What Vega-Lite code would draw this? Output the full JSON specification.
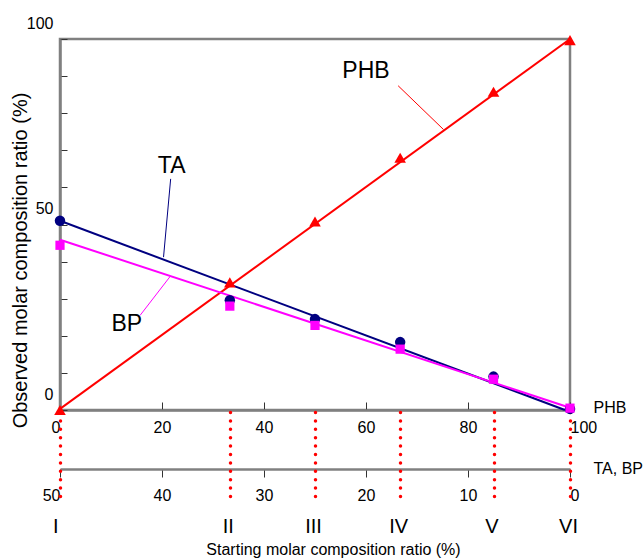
{
  "$schema": "https://vega.github.io/schema/vega-lite/v6.json",
  "width": 510,
  "height": 371,
  "autosize": {"type": "none"},
  "padding": {"left": 60, "top": 39, "right": 73, "bottom": 148},
  "background": "white",
  "config": {
    "font": "Liberation Sans",
    "view": {"stroke": "#808080", "strokeWidth": 2.5},
    "axis": {
      "labelFont": "Liberation Sans",
      "titleFont": "Liberation Sans",
      "labelColor": "#000000",
      "titleColor": "#000000",
      "labelFontSize": 16,
      "titleFontSize": 16,
      "titleFontWeight": "normal",
      "grid": false,
      "domainColor": "#808080",
      "domainWidth": 2.5,
      "tickColor": "#333333",
      "tickWidth": 1,
      "labelOverlap": false,
      "labelBound": false
    }
  },
  "datasets": {
    "fits": [
      {"series": "PHB", "x": 0, "y": 0.3},
      {"series": "PHB", "x": 100, "y": 100},
      {"series": "TA", "x": 0, "y": 51},
      {"series": "TA", "x": 99, "y": 0},
      {"series": "BP", "x": 0, "y": 45.9},
      {"series": "BP", "x": 100, "y": 0.6}
    ],
    "observed": [
      {"series": "TA", "sample": "I", "start": 0, "observed": 51},
      {"series": "TA", "sample": "II", "start": 33.3, "observed": 29.6},
      {"series": "TA", "sample": "III", "start": 50, "observed": 24.5},
      {"series": "TA", "sample": "IV", "start": 66.7, "observed": 18.3},
      {"series": "TA", "sample": "V", "start": 85, "observed": 9.0},
      {"series": "TA", "sample": "VI", "start": 100, "observed": 0.3},
      {"series": "BP", "sample": "I", "start": 0, "observed": 44.4},
      {"series": "BP", "sample": "II", "start": 33.3, "observed": 28},
      {"series": "BP", "sample": "III", "start": 50, "observed": 22.8},
      {"series": "BP", "sample": "IV", "start": 66.7, "observed": 16.4},
      {"series": "BP", "sample": "V", "start": 85, "observed": 8.3},
      {"series": "BP", "sample": "VI", "start": 100, "observed": 0.5},
      {"series": "PHB", "sample": "I", "start": 0, "observed": 0},
      {"series": "PHB", "sample": "II", "start": 33.3, "observed": 34.4},
      {"series": "PHB", "sample": "III", "start": 50, "observed": 50.8},
      {"series": "PHB", "sample": "IV", "start": 66.7, "observed": 68},
      {"series": "PHB", "sample": "V", "start": 85, "observed": 85.8},
      {"series": "PHB", "sample": "VI", "start": 100, "observed": 99.7}
    ],
    "labels": [
      {"series": "TA", "text": "TA", "x": 21.9, "y": 65.9, "lx1": 21.7, "ly1": 62.3, "lx2": 20.3, "ly2": 41.2},
      {"series": "BP", "text": "BP", "x": 13.1, "y": 23.3, "lx1": 15.7, "ly1": 25.5, "lx2": 21.6, "ly2": 36.0},
      {"series": "PHB", "text": "PHB", "x": 60, "y": 91.4, "lx1": 66.3, "ly1": 87.4, "lx2": 75.2, "ly2": 75.6}
    ],
    "samples": [
      {"sample": "I", "phb": 0, "ta_bp": 50},
      {"sample": "II", "phb": 33.3, "ta_bp": 33.3},
      {"sample": "III", "phb": 50, "ta_bp": 25},
      {"sample": "IV", "phb": 66.7, "ta_bp": 16.7},
      {"sample": "V", "phb": 85, "ta_bp": 7.5},
      {"sample": "VI", "phb": 100, "ta_bp": 0}
    ]
  },
  "layer": [
    {
      "layer": [
        {
          "data": {"name": "fits"},
          "mark": {"type": "line", "strokeWidth": 2},
          "encoding": {
            "x": {
              "field": "x", "type": "quantitative",
              "scale": {"domain": [0, 100], "nice": false, "zero": false},
              "axis": {
                "orient": "bottom",
                "offset": 0,
                "title": "PHB",
                "values": [0, 20, 40, 60, 80, 100],
                "tickCount": 20,
                "labelOverlap": false,
                "tickSize": -8,
                "labelPadding": 17,
                "labelAlign": {
                  "condition": [
                    {"test": "datum.value === 0", "value": "right"},
                    {"test": "datum.value === 100", "value": "left"}
                  ],
                  "value": "center"
                },
                "titleX": 533,
                "titleY": 2.5,
                "titleAlign": "left",
                "titleBaseline": "alphabetic",
                "titleAngle": 0
              }
            },
            "y": {
              "field": "y", "type": "quantitative",
              "scale": {"domain": [0, 100], "nice": false, "zero": false},
              "axis": {
                "title": "Observed molar composition ratio (%)",
                "titleFontSize": 20,
                "titleX": -40,
                "titleY": 221,
                "titleAlign": "center",
                "titleBaseline": "middle",
                "titleAngle": -90,
                "values": [0, 10, 20, 30, 40, 50, 60, 70, 80, 90, 100],
                "tickCount": 20,
                "labelExpr": "datum.value % 50 === 0 ? datum.label : ''",
                "labelOverlap": false,
                "tickSize": -7,
                "labelPadding": 14,
                "labelOffset": -16,
                "labelAlign": "right",
                "labelBaseline": "middle"
              }
            },
            "color": {
              "field": "series", "type": "nominal",
              "scale": {"domain": ["PHB", "TA", "BP"], "range": ["#ff0000", "#000080", "#ff00ff"]},
              "legend": null
            }
          }
        },
        {
          "data": {"name": "labels"},
          "mark": {"type": "rule", "strokeWidth": 1},
          "encoding": {
            "x": {"field": "lx1", "type": "quantitative", "scale": {"domain": [0, 100], "nice": false, "zero": false}},
            "y": {"field": "ly1", "type": "quantitative", "scale": {"domain": [0, 100], "nice": false, "zero": false}},
            "x2": {"field": "lx2"},
            "y2": {"field": "ly2"},
            "color": {"field": "series", "type": "nominal", "legend": null}
          }
        },
        {
          "data": {"name": "observed"},
          "mark": {"type": "point", "filled": true, "opacity": 1},
          "encoding": {
            "x": {"field": "start", "type": "quantitative", "scale": {"domain": [0, 100], "nice": false, "zero": false}},
            "y": {"field": "observed", "type": "quantitative", "scale": {"domain": [0, 100], "nice": false, "zero": false}},
            "color": {"field": "series", "type": "nominal", "legend": null},
            "shape": {
              "field": "series", "type": "nominal",
              "scale": {"domain": ["PHB", "TA", "BP"], "range": ["triangle-up", "circle", "square"]},
              "legend": null
            },
            "size": {
              "field": "series", "type": "nominal",
              "scale": {"domain": ["PHB", "TA", "BP"], "range": [135, 85, 95]},
              "legend": null
            }
          }
        },
        {
          "data": {"name": "labels"},
          "mark": {"type": "text", "fontSize": 23, "color": "#000000", "baseline": "middle", "align": "center", "font": "Liberation Sans"},
          "encoding": {
            "x": {"field": "x", "type": "quantitative", "scale": {"domain": [0, 100], "nice": false, "zero": false}},
            "y": {"field": "y", "type": "quantitative", "scale": {"domain": [0, 100], "nice": false, "zero": false}},
            "text": {"field": "text"}
          }
        }
      ]
    },
    {
      "data": {"name": "samples"},
      "mark": {"type": "point", "opacity": 0},
      "encoding": {
        "x": {
          "field": "ta_bp", "type": "quantitative",
          "scale": {"domain": [0, 50], "reverse": true, "nice": false, "zero": false},
          "axis": {
            "orient": "bottom",
            "offset": 59,
            "title": "TA, BP",
            "values": [0, 10, 20, 30, 40, 50],
            "tickCount": 20,
            "labelOverlap": false,
            "tickSize": 8,
            "labelPadding": 10,
            "labelAlign": {
              "condition": [
                {"test": "datum.value === 50", "value": "right"},
                {"test": "datum.value === 0", "value": "left"}
              ],
              "value": "center"
            },
            "titleX": 533,
            "titleY": 4.2,
            "titleAlign": "left",
            "titleBaseline": "alphabetic",
            "titleAngle": 0
          }
        }
      }
    },
    {
      "data": {"name": "samples"},
      "mark": {"type": "point", "opacity": 0},
      "encoding": {
        "x": {
          "field": "phb", "type": "quantitative",
          "scale": {"domain": [0, 100], "nice": false, "zero": false},
          "axis": {
            "orient": "bottom",
            "offset": 0,
            "title": "Starting molar composition ratio (%)",
            "values": [0, 33.3, 50, 66.7, 85, 100],
            "tickCount": 20,
            "labelExpr": "datum.value < 10 ? 'I' : datum.value < 40 ? 'II' : datum.value < 60 ? 'III' : datum.value < 75 ? 'IV' : datum.value < 95 ? 'V' : 'VI'",
            "labelOverlap": false,
            "domain": false,
            "tickColor": "#ff0000",
            "tickWidth": 3.5,
            "tickCap": "round",
            "tickDash": [0, 8.4],
            "tickDashOffset": 6.4,
            "tickSize": 94,
            "labelFontSize": 20,
            "labelPadding": 12,
            "labelOffset": -2,
            "labelAlign": {
              "condition": {"test": "datum.value === 0", "value": "right"},
              "value": "center"
            },
            "titleFontSize": 16,
            "titleX": 273,
            "titleY": 144,
            "titleAlign": "center",
            "titleBaseline": "alphabetic",
            "titleAngle": 0
          }
        }
      }
    }
  ],
  "resolve": {"scale": {"x": "independent"}, "axis": {"x": "independent"}}
}
